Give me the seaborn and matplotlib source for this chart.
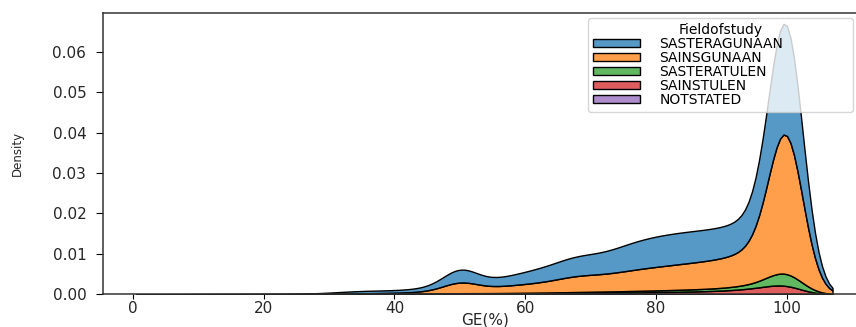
import numpy as np
import pandas as pd
import matplotlib
matplotlib.use("Agg")
import matplotlib.pyplot as plt
import seaborn as sns

# GE(%) values and the number of programmes (weights) per field of study
ge_values = [7.5, 10, 12.5, 15, 17.5, 20, 22.5, 25, 27.5, 30, 32.5, 35, 37.5,
             40, 42.5, 45, 47.5, 50, 52.5, 55, 57.5, 60, 62.5, 65, 67.5, 70,
             72.5, 75, 77.5, 80, 82.5, 85, 87.5, 90, 92.5, 95, 97.5, 100]

sasteragunaan = [0.2, 0.2, 0.3, 0.3, 0.4, 0.5, 0.6, 0.8, 1.2,
                 2.5, 5, 6, 6, 6, 7, 9, 11,
                 59, 15, 18, 23, 29,
                 35, 40, 50, 48, 51,
                 63, 69, 74, 75, 76,
                 75, 74, 75, 78, 78,
                 624]
sainsgunaan = [0.1, 0.1, 0.1, 0.2, 0.2, 0.2, 0.3, 0.3, 0.4,
               0.5, 1, 1.5, 2, 2, 3, 5, 6,
               52, 11, 14, 18, 21,
               24, 30, 42, 40, 41,
               47, 53, 56, 60, 63,
               66, 70, 74, 88, 88,
               793]
sasteratulen = [0.1, 0.1, 0.1, 0.1, 0.1, 0.1, 0.1, 0.1, 0.1,
                0.2, 0.3, 0.4, 0.5, 0.6, 0.8, 1, 1.2,
                1.6, 1.5, 1.5, 1.8, 2,
                2.2, 2.5, 2.8, 3, 3.2,
                3.5, 3.8, 4, 4.5, 5,
                5.5, 6, 8, 10, 12,
                65]
sainstulen = [0.1, 0.1, 0.1, 0.1, 0.1, 0.1, 0.1, 0.1, 0.1,
              0.2, 0.3, 0.4, 0.5, 0.6, 0.7, 0.8, 0.9,
              1.2, 1, 1, 1.2, 1.4,
              1.6, 2, 2.4, 2.8, 3.2,
              3.6, 4.2, 4.8, 5.4, 6,
              7, 8, 10, 14, 17,
              36]
notstated = [0.05, 0.05, 0.05, 0.05, 0.05, 0.05, 0.05, 0.05, 0.05,
             0.1, 0.1, 0.1, 0.1, 0.1, 0.1, 0.1, 0.1,
             0.2, 0.2, 0.2, 0.2, 0.2,
             0.2, 0.2, 0.2, 0.2, 0.2,
             0.4, 0.4, 0.4, 0.4, 0.4,
             0.4, 0.4, 0.4, 0.4, 0.4,
             2]

fields = ["SASTERAGUNAAN", "SAINSGUNAAN", "SASTERATULEN", "SAINSTULEN", "NOTSTATED"]
field_counts = [sasteragunaan, sainsgunaan, sasteratulen, sainstulen, notstated]

df = pd.concat(
    [pd.DataFrame({"GE(%)": ge_values, "Fieldofstudy": name, "count": counts})
     for name, counts in zip(fields, field_counts)],
    ignore_index=True,
)

# Kernel width in GE percentage points, the same for every field
KERNEL_SD = 2.6


def fixed_bandwidth(kde):
    sd = np.sqrt(np.cov(kde.dataset[0], aweights=kde.weights))
    return KERNEL_SD / sd


plt.rcParams["font.family"] = ["DejaVu Sans"]

W, H = 856, 327
fig = plt.figure(figsize=(W / 100, H / 100), dpi=100)
ax = fig.add_axes([103 / W, (H - 294.3) / H, (867 - 103) / W, (294.3 - 13) / H])

sns.kdeplot(
    data=df, x="GE(%)", hue="Fieldofstudy", weights="count",
    hue_order=fields, multiple="stack", bw_method=fixed_bandwidth, cut=2.7,
    palette="tab10", ax=ax,
)

ax.set_xlim(-4.6, 112.3)
ax.set_ylim(0, 0.0696)
ax.set_xticks([0, 20, 40, 60, 80, 100])
ax.set_yticks([0.00, 0.01, 0.02, 0.03, 0.04, 0.05, 0.06])

ax.tick_params(axis="y", length=5, pad=7, labelsize=11, labelcolor="#262626")
ax.tick_params(axis="x", length=3.5, pad=1, labelsize=11, labelcolor="#262626")
for side in ("left", "bottom", "top", "right"):
    ax.spines[side].set_color("#333333")
    ax.spines[side].set_linewidth(1.1)

ax.set_xlabel("GE(%)", fontsize=11, color="#262626")
ax.xaxis.set_label_coords(0.5, -0.066)
ax.set_ylabel("Density", fontsize=8.5, color="#262626")
ax.yaxis.set_label_coords(-0.1034, 0.5)

sns.move_legend(
    ax, "upper left",
    bbox_to_anchor=(588 / W, 1 - 117 / H, (853 - 588) / W, 99 / H),
    bbox_transform=fig.transFigure,
    mode="expand", borderaxespad=0,
    fontsize=10, title_fontsize=10,
    labelspacing=0.0, handlelength=3.4, handleheight=0.5,
    handletextpad=1.4, borderpad=0.35,
)

fig.savefig("out.png", dpi=100)
